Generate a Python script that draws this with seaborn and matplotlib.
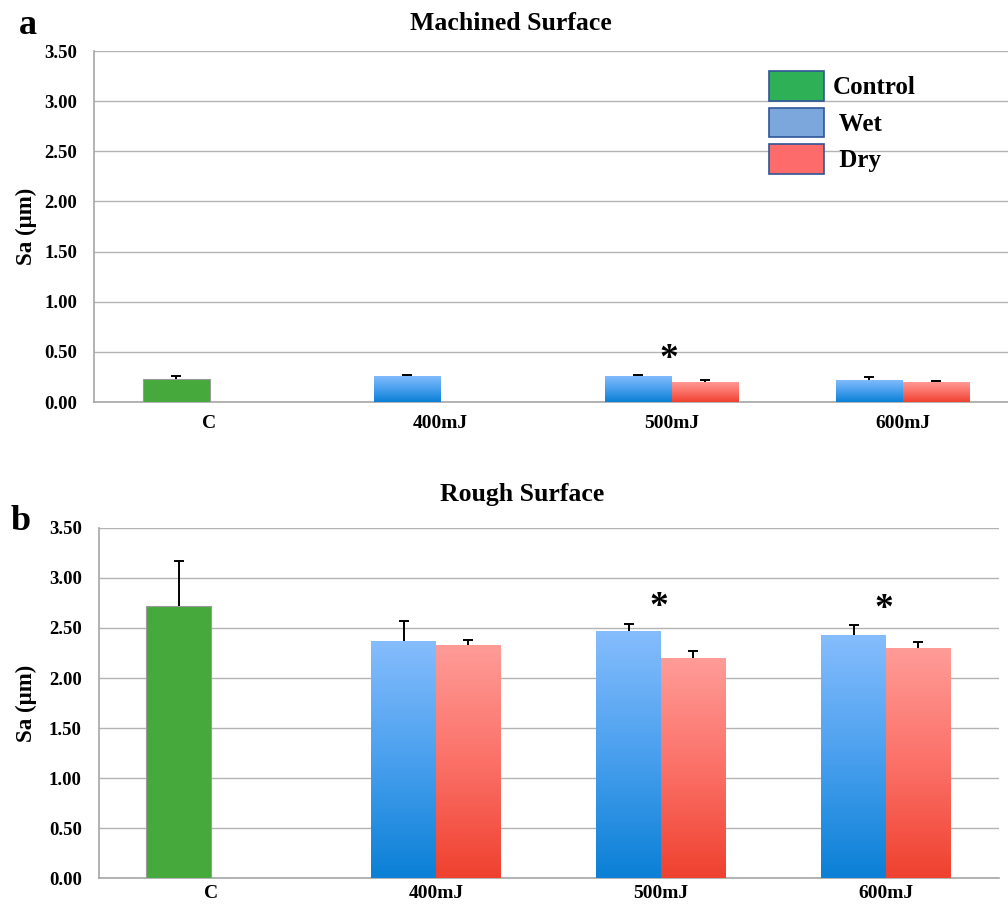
import numpy as np
import pandas as pd
import matplotlib
matplotlib.use("Agg")
import matplotlib.pyplot as plt
import seaborn as sns
from matplotlib.colors import LinearSegmentedColormap
from matplotlib.patches import Patch
from matplotlib.ticker import FixedLocator, FormatStrFormatter

# ---- data -------------------------------------------------------------
categories = ["C", "400mJ", "500mJ", "600mJ"]
laser_levels = ["400mJ", "500mJ", "600mJ"]

# Machined surface, Sa (um)
machined_control_mean = 0.23
machined_control_err = 0.03
machined_wet_mean = [0.26, 0.26, 0.22]
machined_wet_err = [0.005, 0.005, 0.03]
machined_dry_mean = [np.nan, 0.20, 0.20]
machined_dry_err = [np.nan, 0.02, 0.01]
machined_significant = ["500mJ"]

# Rough surface, Sa (um)
rough_control_mean = 2.72
rough_control_err = 0.45
rough_wet_mean = [2.37, 2.47, 2.43]
rough_wet_err = [0.20, 0.07, 0.10]
rough_dry_mean = [2.33, 2.20, 2.30]
rough_dry_err = [0.05, 0.07, 0.06]
rough_significant = ["500mJ", "600mJ"]

y_ticks = [0.0, 0.5, 1.0, 1.5, 2.0, 2.5, 3.0, 3.5]


def build_table(ctrl_m, ctrl_e, wet_m, wet_e, dry_m, dry_e):
    rows = [("C", "first", "Control", ctrl_m, ctrl_e)]
    for lvl, m, e in zip(laser_levels, wet_m, wet_e):
        rows.append((lvl, "first", "Wet", m, e))
    for lvl, m, e in zip(laser_levels, dry_m, dry_e):
        rows.append((lvl, "second", "Dry", m, e))
    df = pd.DataFrame(rows, columns=["category", "slot", "group", "value", "err"])
    return df.dropna(subset=["value"]).reset_index(drop=True)


machined = build_table(machined_control_mean, machined_control_err,
                       machined_wet_mean, machined_wet_err,
                       machined_dry_mean, machined_dry_err)
rough = build_table(rough_control_mean, rough_control_err,
                    rough_wet_mean, rough_wet_err,
                    rough_dry_mean, rough_dry_err)

# ---- style ------------------------------------------------------------
sns.set_style("white")
plt.rcParams["font.family"] = ["Liberation Serif", "DejaVu Serif"]
plt.rcParams["font.weight"] = "bold"
plt.rcParams["text.color"] = "black"
plt.rcParams["axes.labelcolor"] = "black"

GRID = "#b3b3b3"
AXIS = "#a6a6a6"
green_fill = "#46a93b"
blue_grad = LinearSegmentedColormap.from_list("wet", ["#0a80d6", "#4aa0ee", "#86bdfd"])
red_grad = LinearSegmentedColormap.from_list("dry", ["#ef412f", "#fb7168", "#ff9c98"])
fills = {"Control": green_fill, "Wet": "#4aa0ee", "Dry": "#fb7168"}
grads = {"Wet": blue_grad, "Dry": red_grad}

fig = plt.figure(figsize=(10.08, 9.05), dpi=100)
ax_a = fig.add_axes([94 / 1008, 503 / 905, 914 / 1008, 351 / 905])
ax_b = fig.add_axes([98.5 / 1008, 27 / 905, 900 / 1008, 350 / 905])


def draw_panel(ax, df, significant, xlim, xpad):
    sns.barplot(data=df, x="category", y="value", hue="slot",
                order=categories, hue_order=["first", "second"],
                dodge=True, width=0.575, errorbar=None, legend=False,
                saturation=1, ax=ax)
    gradient = np.linspace(0, 1, 256).reshape(-1, 1)
    for p in list(ax.patches):
        h = p.get_height()
        if not np.isfinite(h) or h <= 0:
            continue
        x0, w = p.get_x(), p.get_width()
        cx = x0 + w / 2
        ci = int(round(cx))
        slot = "first" if cx < ci else "second"
        row = df[(df["category"] == categories[ci]) & (df["slot"] == slot)].iloc[0]
        grp = row["group"]
        p.set_facecolor(fills[grp])
        p.set_zorder(2)
        if grp == "Control":
            p.set_edgecolor("#9a9a9a")
            p.set_linewidth(0.8)
        else:
            p.set_edgecolor("none")
            im = ax.imshow(gradient, cmap=grads[grp], origin="lower",
                           extent=[x0, x0 + w, 0, h], aspect="auto",
                           interpolation="bilinear", zorder=2.1)
            im.set_clip_path(p)
        # one-sided (upper) error bar
        _, caps, _ = ax.errorbar(cx, h, yerr=[[0], [row["err"]]], fmt="none",
                                 ecolor="black", elinewidth=1.4, capsize=3.5,
                                 capthick=1.4, zorder=3)
        caps[0].set_visible(False)

    for cat in significant:
        ci = categories.index(cat)
        sub = df[df["category"] == cat]
        top = (sub["value"] + sub["err"]).max()
        ax.text(ci - 0.01, top + 0.16, "*", ha="center", va="center",
                fontsize=27, fontweight="bold", color="black", zorder=4)

    ax.set_xlim(*xlim)
    ax.set_ylim(0, 3.5)
    ax.yaxis.set_major_locator(FixedLocator(y_ticks))
    ax.yaxis.set_major_formatter(FormatStrFormatter("%.2f"))
    ax.xaxis.set_minor_locator(FixedLocator([0.5, 1.5, 2.5]))
    ax.yaxis.grid(True, color=GRID, linewidth=1)
    ax.xaxis.grid(False)
    ax.set_axisbelow(True)
    for side in ("top", "right"):
        ax.spines[side].set_visible(False)
    for side in ("left", "bottom"):
        ax.spines[side].set_color(AXIS)
        ax.spines[side].set_linewidth(1.2)
        ax.spines[side].set_zorder(1)
    ax.tick_params(axis="y", which="major", length=5, width=1, color=AXIS,
                   labelcolor="black", pad=7, labelsize=13.5)
    ax.tick_params(axis="x", which="major", length=0, pad=xpad, labelsize=14,
                   labelcolor="black")
    ax.tick_params(axis="x", which="minor", length=5, width=1, color=AXIS,
                   direction="out")
    for lbl in ax.get_xticklabels() + ax.get_yticklabels():
        lbl.set_fontweight("bold")
    ax.set_xlabel("")
    ax.set_ylabel("Sa (\u03bcm)", fontsize=16.5, fontweight="bold", color="black")


draw_panel(ax_a, machined, machined_significant, (-0.5, -0.5 + 914 / 231), 9)
draw_panel(ax_b, rough, rough_significant, (-0.5, 3.5), 5)
ax_a.yaxis.set_label_coords(-0.062, 0.5)
ax_b.yaxis.set_label_coords(-0.068, 0.5)

# titles and panel letters
fig.text(511 / 1008, 1 - 23 / 905, "Machined Surface", ha="center", va="center",
         fontsize=18.5, fontweight="bold")
fig.text(522 / 1008, 1 - 494 / 905, "Rough Surface", ha="center", va="center",
         fontsize=18.5, fontweight="bold")
fig.text(28 / 1008, 1 - 34 / 905, "a", ha="center", va="baseline",
         fontsize=26, fontweight="bold")
fig.text(21 / 1008, 1 - 530 / 905, "b", ha="center", va="baseline",
         fontsize=26, fontweight="bold")

# legend
edge = "#2f5597"
handles = [Patch(facecolor="#2eb057", edgecolor=edge, linewidth=1.2, label="Control"),
           Patch(facecolor="#7ba7dd", edgecolor=edge, linewidth=1.2, label=" Wet"),
           Patch(facecolor="#fd6b6a", edgecolor=edge, linewidth=1.2, label=" Dry")]
ax_a.legend(handles=handles, loc="upper left",
            bbox_to_anchor=(769 / 1008, 1 - 71 / 905),
            bbox_transform=fig.transFigure, frameon=False,
            prop={"size": 18, "weight": "bold"},
            handlelength=2.2, handleheight=1.45, labelspacing=0.28,
            handletextpad=0.35, borderaxespad=0, borderpad=0)

fig.savefig("out.png", dpi=100)
